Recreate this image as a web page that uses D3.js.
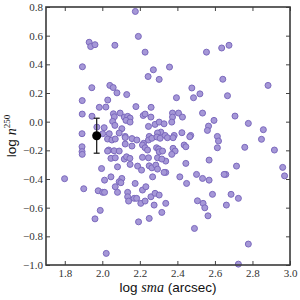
<!DOCTYPE html>
<html>
<head>
<meta charset="utf-8">
<script src="https://cdn.jsdelivr.net/npm/d3@7"></script>
<style>
    body { margin: 0; background: #fff; }
    .tick text { font-family: "Liberation Serif", serif; font-size: 11px; fill: #333; }
    .tick line { stroke: #444; }
</style>
</head>
<body>
<div id="chart"></div>
<script>
// log sma (arcsec) of each galaxy
var logSma = [
    2.176, 2.192, 1.930, 1.938, 1.961, 2.067, 2.228, 2.555, 2.636, 2.675,
    1.894, 2.272, 2.358, 2.244, 2.303, 2.642, 2.883, 2.477, 2.486, 2.520,
    2.395, 2.667, 1.944, 2.040, 2.058, 2.078, 2.130, 1.893, 2.029, 1.984,
    2.019, 2.179, 2.260, 1.893, 1.945, 2.059, 2.064, 2.095, 2.117, 2.135,
    2.148, 2.055, 2.067, 2.104, 2.126, 2.148, 2.218, 2.228, 2.259, 2.246,
    2.281, 2.303, 2.329, 2.312, 2.294, 2.090, 2.037, 2.122, 2.250, 2.335,
    1.971, 2.010, 1.892, 2.002, 2.374, 2.406, 2.374, 2.427, 2.370, 2.534,
    2.595, 2.566, 2.560, 2.424, 2.383, 2.471, 2.613, 2.707, 2.778, 2.858,
    2.848, 2.759, 2.917, 2.715, 2.658, 2.961, 2.971, 2.686, 2.725, 2.661,
    2.778, 2.725, 2.347, 2.377, 2.466, 2.619, 2.613, 2.377, 2.388, 2.370,
    2.436, 2.445, 2.338, 2.445, 2.569, 2.338, 2.413, 2.502, 2.534, 2.569,
    2.449, 2.649, 2.587, 2.338, 2.507, 2.537, 2.546, 2.563, 2.491,
    2.028, 2.051, 2.069, 2.122, 2.158, 2.184, 2.220, 2.246, 2.264, 2.291, 2.308,
    2.034, 2.063, 2.090, 2.122, 2.158, 2.214, 2.228, 2.241, 2.289, 2.300, 2.303, 2.321,
    2.046, 2.069, 2.117, 2.129, 2.147, 2.214, 2.246, 2.294, 2.317,
    2.081, 2.148, 2.188, 2.209, 2.250, 2.264, 2.285, 2.294, 2.329,
    2.046, 2.104, 2.090, 2.069, 2.099, 2.175, 2.268, 2.214, 2.232,
    2.081, 2.135, 2.135, 2.140, 2.170, 2.183, 2.205, 2.228, 2.259, 2.281, 2.303, 2.276, 2.317,
    2.193, 2.250,
    1.892, 1.892, 1.893, 1.799, 1.901, 1.978, 2.002, 2.012, 1.996, 2.012, 1.989, 1.961, 2.021, 2.028
];

// log n^250, same order
var logN = [
    0.769, 0.595, 0.554, 0.524, 0.537, 0.533, 0.485, 0.485, 0.514, 0.533,
    0.383, 0.362, 0.381, 0.315, 0.295, 0.296, 0.253, 0.235, 0.167, 0.194,
    0.167, 0.181, 0.237, 0.253, 0.238, 0.201, 0.189, 0.147, 0.151, 0.100,
    0.102, 0.105, 0.100, 0.053, 0.038, 0.055, 0.034, 0.060, 0.032, 0.037,
    0.025, 0.002, -0.026, -0.049, 0.009, -0.003, 0.043, 0.053, 0.032, -0.033,
    -0.019, -0.003, -0.015, -0.073, -0.079, -0.079, -0.084, -0.103, -0.103, -0.096,
    -0.038, -0.042, -0.084, -0.084, 0.060, 0.060, 0.032, 0.032, -0.003, 0.060,
    0.009, -0.031, -0.061, -0.077, -0.096, -0.096, -0.103, 0.039, -0.012, -0.056,
    -0.123, -0.179, -0.198, -0.310, -0.368, -0.319, -0.378, -0.507, -0.535, -0.582,
    -0.854, -0.994, -0.112, -0.112, -0.105, -0.135, -0.182, -0.186, -0.205, -0.228,
    -0.163, -0.175, -0.275, -0.291, -0.268, -0.354, -0.385, -0.368, -0.396, -0.408,
    -0.431, -0.368, -0.507, -0.570, -0.552, -0.570, -0.601, -0.657, -0.745,
    -0.121, -0.128, -0.121, -0.111, -0.118, -0.128, -0.151, -0.128, -0.116, -0.107, -0.116,
    -0.198, -0.203, -0.205, -0.156, -0.170, -0.163, -0.182, -0.198, -0.182, -0.191, -0.210, -0.205,
    -0.256, -0.252, -0.261, -0.245, -0.256, -0.249, -0.252, -0.252, -0.261,
    -0.315, -0.298, -0.310, -0.338, -0.308, -0.322, -0.303, -0.331, -0.354,
    -0.385, -0.396, -0.419, -0.454, -0.426, -0.431, -0.385, -0.477, -0.454,
    -0.493, -0.493, -0.524, -0.554, -0.535, -0.535, -0.570, -0.554, -0.524, -0.500, -0.512, -0.582, -0.633,
    -0.699, -0.675,
    -0.175, -0.209, -0.228, -0.398, -0.468, -0.482, -0.493, -0.493, -0.327, -0.408, -0.619, -0.678, -0.919, -0.205
];

// median point with its error bar
var medianX = [1.97];
var medianY = [-0.098];
var medianErr = [0.122];

var xTicks = [1.8, 2.0, 2.2, 2.4, 2.6, 2.8, 3.0];
var yTicks = [-1.0, -0.8, -0.6, -0.4, -0.2, 0.0, 0.2, 0.4, 0.6, 0.8];

var margin = { top: 7, right: 10, bottom: 35, left: 46 };
var width = 300;
var height = 300;
var w = width - margin.left - margin.right;
var h = height - margin.top - margin.bottom;

var svg = d3.select("#chart").append("svg")
    .attr("width", width)
    .attr("height", height)
    .append("g")
    .attr("transform", "translate(" + margin.left + "," + margin.top + ")");

var xScale = d3.scaleLinear().domain([1.7, 3.0]).range([0, w]);
var yScale = d3.scaleLinear().domain([-1.0, 0.8]).range([h, 0]);
var fmt = d3.format(".1f");

// points
var points = d3.zip(logSma, logN);
svg.append("g")
    .selectAll("circle")
    .data(points)
    .enter()
    .append("circle")
    .attr("cx", function (d) { return xScale(d[0]); })
    .attr("cy", function (d) { return yScale(d[1]); })
    .attr("r", 3)
    .attr("fill", "#a597d7")
    .attr("stroke", "#7b69bd")
    .attr("stroke-width", 1);

// error bar
var med = svg.append("g");
medianX.forEach(function (mx, i) {
    var cx = xScale(mx);
    var top = yScale(medianY[i] + medianErr[i]);
    var bot = yScale(medianY[i] - medianErr[i]);
    med.append("line").attr("x1", cx).attr("x2", cx).attr("y1", top).attr("y2", bot)
        .attr("stroke", "#222").attr("stroke-width", 1.3);
    [top, bot].forEach(function (yy) {
        med.append("line").attr("x1", cx - 3).attr("x2", cx + 3).attr("y1", yy).attr("y2", yy)
            .attr("stroke", "#222").attr("stroke-width", 1.3);
    });
    med.append("circle").attr("cx", cx).attr("cy", yScale(medianY[i])).attr("r", 4.5)
        .attr("fill", "#000");
});

// axes, ticks pointing inward on all four sides
svg.append("g")
    .attr("transform", "translate(0," + h + ")")
    .call(d3.axisBottom(xScale).tickValues(xTicks).tickFormat(fmt)
        .tickSizeInner(-4).tickSizeOuter(0).tickPadding(4))
    .call(function (g) { g.select(".domain").remove(); });
svg.append("g")
    .call(d3.axisTop(xScale).tickValues(xTicks).tickFormat("")
        .tickSizeInner(-4).tickSizeOuter(0))
    .call(function (g) { g.select(".domain").remove(); });
svg.append("g")
    .call(d3.axisLeft(yScale).tickValues(yTicks).tickFormat(fmt)
        .tickSizeInner(-4).tickSizeOuter(0).tickPadding(3))
    .call(function (g) { g.select(".domain").remove(); });
svg.append("g")
    .attr("transform", "translate(" + w + ",0)")
    .call(d3.axisRight(yScale).tickValues(yTicks).tickFormat("")
        .tickSizeInner(-4).tickSizeOuter(0))
    .call(function (g) { g.select(".domain").remove(); });

// frame
svg.append("rect")
    .attr("width", w)
    .attr("height", h)
    .attr("fill", "none")
    .attr("stroke", "#3a3a3a")
    .attr("stroke-width", 1.6);

// axis titles
var xLabel = svg.append("text")
    .attr("x", w / 2)
    .attr("y", h + 27)
    .attr("text-anchor", "middle")
    .style("font-family", "'Liberation Sans', sans-serif")
    .style("font-size", "13.5px")
    .attr("fill", "#111");
xLabel.append("tspan").text("log ");
xLabel.append("tspan").text("sma").style("font-family", "'Liberation Serif', serif")
    .style("font-style", "italic").style("font-size", "14px");
xLabel.append("tspan").text(" (arcsec)");

var yLabel = svg.append("text")
    .attr("transform", "translate(" + (-30) + "," + (h / 2) + ") rotate(-90)")
    .attr("text-anchor", "middle")
    .style("font-family", "'Liberation Sans', sans-serif")
    .style("font-size", "13.5px")
    .attr("fill", "#111");
yLabel.append("tspan").text("log ");
yLabel.append("tspan").text("n").style("font-family", "'Liberation Serif', serif")
    .style("font-style", "italic").style("font-size", "14px");
yLabel.append("tspan").text("250").attr("dy", "-6")
    .style("font-family", "'Liberation Serif', serif").style("font-size", "9px");
</script>
</body>
</html>
